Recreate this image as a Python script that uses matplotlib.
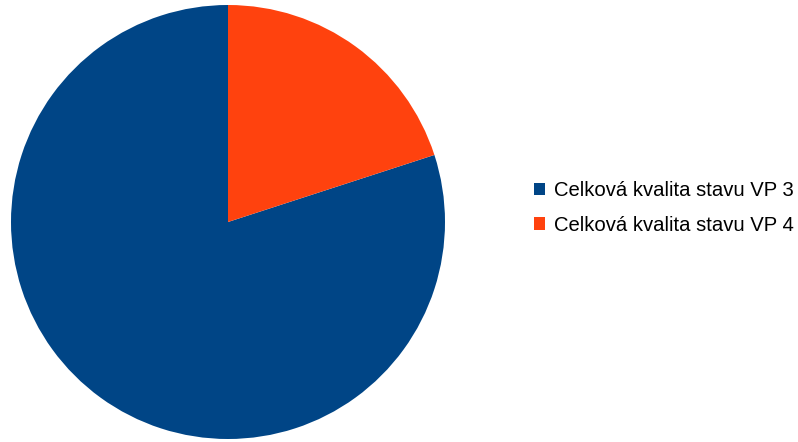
import matplotlib.pyplot as plt
from matplotlib.patches import Patch

# Data
labels = ["Celková kvalita stavu VP 3", "Celková kvalita stavu VP 4"]
values = [80, 20]
colors = ["#004586", "#ff420e"]

W, H = 798, 442
fig = plt.figure(figsize=(W / 100, H / 100), dpi=100)

# pie axes: center ~ (228, 222), radius ~217 px
ax = fig.add_axes([11 / W, (H - 439) / H, 434 / W, 434 / H])
ax.pie(values, colors=colors, startangle=90, counterclock=True,
       wedgeprops=dict(linewidth=0), radius=1.0)
ax.set_xlim(-1, 1)
ax.set_ylim(-1, 1)
ax.set_aspect("equal")
ax.axis("off")

# legend
handles = [Patch(facecolor=c, edgecolor="none", label=l) for c, l in zip(colors, labels)]
fig.legend(handles=handles, loc="center left", bbox_to_anchor=(534 / W, 1 - 208 / H),
           frameon=False, prop={"family": "Liberation Sans", "size": 14.6},
           handlelength=0.55, handleheight=0.55, handletextpad=0.45, labelspacing=0.75,
           borderpad=0, borderaxespad=0)

fig.savefig("out.png", dpi=100)
